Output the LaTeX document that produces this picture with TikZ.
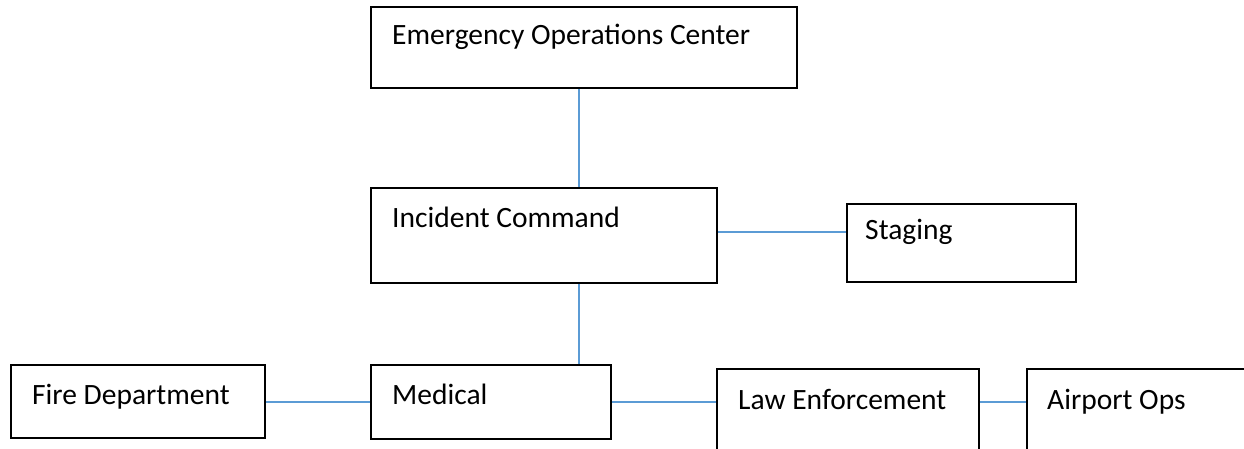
\documentclass[tikz,border=0pt]{standalone}
\usepackage{fontspec}
\setmainfont{Carlito}
\usetikzlibrary{calc}
\definecolor{linkblue}{RGB}{91,155,213}
\tikzset{
  box/.style={draw=black, line width=2pt, fill=white, anchor=north west, inner sep=0pt},
  lbl/.style={anchor=base west, inner sep=0pt, font=\fontsize{29.5}{33}\selectfont},
  link/.style={draw=linkblue, line width=1.5pt}
}
\begin{document}
\begin{tikzpicture}[x=1pt,y=-1pt]
\useasboundingbox (0,0) rectangle (1244,449);
% boxes
\node[box, minimum width=426pt, minimum height=81pt] (eoc) at (370,6) {};
\node[box, minimum width=346pt, minimum height=95pt] (ic) at (370,187) {};
\node[box, minimum width=229pt, minimum height=78pt] (stg) at (846,203) {};
\node[box, minimum width=254pt, minimum height=73pt] (fire) at (10,364) {};
\node[box, minimum width=240pt, minimum height=74pt] (med) at (370,364) {};
\node[box, minimum width=262pt, minimum height=95pt] (law) at (716,368) {};
\node[box, minimum width=240pt, minimum height=95pt] (air) at (1026,368) {};
% labels
\node[lbl] (teoc) at ($(eoc.north west)+(22,39)$) {Emergency Operations Center};
\node[lbl] (tic) at ($(ic.north west)+(22,40)$) {Incident Command};
\node[lbl] (tstg) at ($(stg.north west)+(19,36)$) {Staging};
\node[lbl] (tfire) at ($(fire.north west)+(22,40)$) {Fire Department};
\node[lbl] (tmed) at ($(med.north west)+(22,40)$) {Medical};
\node[lbl] (tlaw) at ($(law.north west)+(22,41)$) {Law Enforcement};
\node[lbl] (tair) at ($(air.north west)+(21,41)$) {Airport Ops};
% connectors
\coordinate (spine) at (579,0);
\coordinate (icy) at (0,232);
\coordinate (bot) at (0,402);
\draw[link] (spine |- eoc.south) -- (spine |- ic.north);
\draw[link] (spine |- ic.south) -- (spine |- med.north);
\draw[link] (ic.east |- icy) -- (stg.west |- icy);
\draw[link] (fire.east |- bot) -- (med.west |- bot);
\draw[link] (med.east |- bot) -- (law.west |- bot);
\draw[link] (law.east |- bot) -- (air.west |- bot);
\end{tikzpicture}
\end{document}
